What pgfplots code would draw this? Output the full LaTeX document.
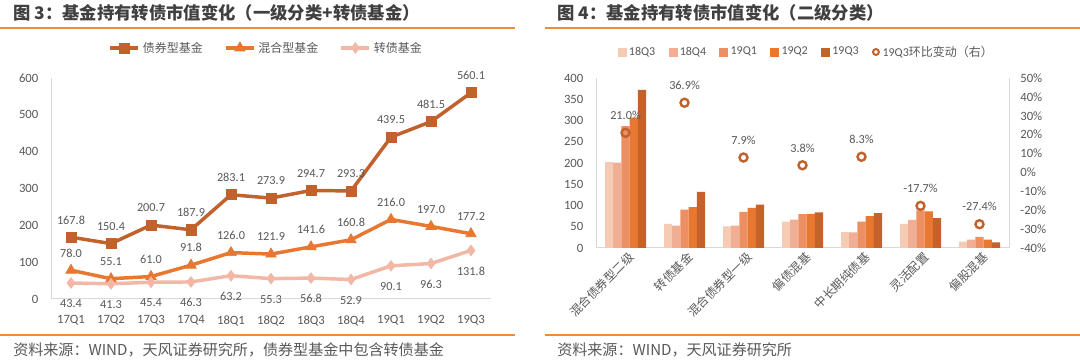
\documentclass[border=0pt]{standalone}
\usepackage{pgfplots}
\usepackage{pgfplotstable}
\pgfplotsset{compat=1.18}
\usepackage{fontspec}
\setmainfont{Carlito}
\newfontfamily\cjk{Noto Sans CJK SC}
\definecolor{txt}{HTML}{595959}
\definecolor{ttl}{HTML}{404040}
\definecolor{rule}{HTML}{ED8D3C}
\definecolor{cA}{HTML}{C1612B}
\definecolor{cB}{HTML}{E8772F}
\definecolor{cC}{HTML}{F2B7A5}
\definecolor{b1}{HTML}{F5CBB3}
\definecolor{b2}{HTML}{F0AF94}
\definecolor{b3}{HTML}{EC9063}
\definecolor{b4}{HTML}{E8772F}
\definecolor{b5}{HTML}{C5612A}
\definecolor{axgray}{HTML}{D9D9D9}
\pgfplotstableread{
x bond mixed cb
0 167.8 78.0 43.4
1 150.4 55.1 41.3
2 200.7 61.0 45.4
3 187.9 91.8 46.3
4 283.1 126.0 63.2
5 273.9 121.9 55.3
6 294.7 141.6 56.8
7 293.3 160.8 52.9
8 439.5 216.0 90.1
9 481.5 197.0 96.3
10 560.1 177.2 131.8
}\linedata
\pgfplotstableread{
x q183 q184 q191 q192 q193 chg
0 202 201 287 307 372 21.0
1 56.8 52.9 90.1 96.3 131.8 36.9
2 51 52.5 85 94.5 102 7.9
3 62 67 80 80.5 84 3.8
4 37.5 36.5 62 75 82 8.3
5 56.5 66 88.5 86 70.5 -17.7
6 15 19.5 26 19.5 13.5 -27.4
}\bardata
\tikzset{lbl/.style={text=txt, font=\fontsize{9.2}{11}\selectfont, anchor=center}}
\pgfplotsset{
  base/.style={scale only axis, anchor=south west,
    /pgf/number format/assume math mode=true,
    tick label style={text=txt, font=\fontsize{9.5}{11}\selectfont},
    axis line style={axgray, line width=0.75pt},
    major tick length=0pt,
    clip=false,
  },
}
\begin{document}
\begin{tikzpicture}[x=0.75pt,y=0.75pt]
\path[use as bounding box, fill=white] (0,0) rectangle (1080,360);
% titles and rules
\node[anchor=west, text=ttl, font=\cjk\bfseries\fontsize{13}{15}\selectfont, inner sep=0pt] at (13,347) {图 3：基金持有转债市值变化（一级分类+转债基金）};
\node[anchor=west, text=ttl, font=\cjk\bfseries\fontsize{13}{15}\selectfont, inner sep=0pt] at (557,347) {图 4：基金持有转债市值变化（二级分类）};
\draw[rule, line width=1.5pt] (0,332) -- (515,332);
\draw[rule, line width=1.5pt] (545,332) -- (1080,332);
\draw[rule, line width=1.5pt] (0,25) -- (515,25);
\draw[rule, line width=1.5pt] (545,25) -- (1080,25);
\node[anchor=west, text=txt, font=\cjk\fontsize{11.3}{13}\selectfont, inner sep=0pt] at (13,10) {资料来源：WIND，天风证券研究所，债券型基金中包含转债基金};
\node[anchor=west, text=txt, font=\cjk\fontsize{11.3}{13}\selectfont, inner sep=0pt] at (557,10) {资料来源：WIND，天风证券研究所};

% ---------- left chart
\begin{axis}[base, at={(38.25pt,45.75pt)}, width=330pt, height=165.75pt,
  xmin=-0.5, xmax=10.5, ymin=0, ymax=600,
  axis x line*=bottom, axis y line*=left,
  xtick={0,...,10},
  xticklabels={17Q1,17Q2,17Q3,17Q4,18Q1,18Q2,18Q3,18Q4,19Q1,19Q2,19Q3},
  ytick={0,100,...,600},
  xticklabel style={yshift=-9pt},
  yticklabel style={xshift=-6pt},
  legend style={at={(0.49,1.136)}, anchor=center, draw=none, fill=none,
    legend columns=3, font=\cjk\fontsize{9}{11}\selectfont, text=txt,
    /tikz/every even column/.append style={column sep=14pt}},
  legend image code/.code={\draw[mark repeat=2,mark phase=2,#1] plot coordinates {(0pt,0pt) (10.5pt,0pt) (21pt,0pt)};},
]
\addplot[cA, line width=2.6pt, mark=square*, mark size=3.8pt, mark options={solid, line width=0.5pt},
  nodes near coords={\pgfmathprintnumber[fixed,fixed zerofill,precision=1]{\pgfplotspointmeta}},
  every node near coord/.append style={lbl, yshift=13pt}, point meta=y]
  table[x=x,y=bond]{\linedata};
\addplot[cB, line width=2.6pt, mark=triangle*, mark size=4.5pt, mark options={solid, line width=0.5pt},
  nodes near coords={\pgfmathprintnumber[fixed,fixed zerofill,precision=1]{\pgfplotspointmeta}},
  every node near coord/.append style={lbl, yshift=13pt}, point meta=y]
  table[x=x,y=mixed]{\linedata};
\addplot[cC, line width=2.6pt, mark=diamond*, mark size=4pt, mark options={solid, line width=0.5pt},
  nodes near coords={\pgfmathprintnumber[fixed,fixed zerofill,precision=1]{\pgfplotspointmeta}},
  every node near coord/.append style={lbl, yshift=-15.5pt}, point meta=y]
  table[x=x,y=cb]{\linedata};
\legend{债券型基金,混合型基金,转债基金}
\end{axis}

% ---------- right chart: bars
\begin{axis}[base, at={(447pt,84pt)}, width=309.75pt, height=127.5pt,
  xmin=-0.5, xmax=6.5, ymin=0, ymax=400,
  axis x line*=bottom, axis y line*=left,
  ytick={0,50,...,400},
  yticklabel style={xshift=-6pt},
  ybar=0pt, bar width=6.15pt,
  xtick={0,...,6},
  xticklabels={混合债券型二级,转债基金,混合债券型一级,偏债混基,中长期纯债基,灵活配置,偏股混基},
  xticklabel style={font=\cjk\fontsize{9}{10}\selectfont, rotate=45, anchor=east, xshift=3pt, yshift=-7pt},
]
\addplot[fill=b1, draw=none] table[x=x,y=q183]{\bardata};
\addplot[fill=b2, draw=none] table[x=x,y=q184]{\bardata};
\addplot[fill=b3, draw=none] table[x=x,y=q191]{\bardata};
\addplot[fill=b4, draw=none] table[x=x,y=q192]{\bardata};
\addplot[fill=b5, draw=none] table[x=x,y=q193]{\bardata};
\end{axis}

% ---------- right chart: change (right axis)
\begin{axis}[base, at={(447pt,84pt)}, width=309.75pt, height=127.5pt,
  xmin=-0.5, xmax=6.5, ymin=-40, ymax=50,
  axis y line*=right, axis x line=none,
  ytick={-40,-30,...,50},
  yticklabel={\pgfmathprintnumber{\tick}\%},
  yticklabel style={xshift=5pt},
  legend style={at={(0.51,1.153)}, anchor=center, draw=none, fill=none,
    legend columns=6, font=\fontsize{9}{11}\selectfont, text=txt,
    /tikz/every even column/.append style={column sep=8pt}},
]
\addlegendimage{legend image code/.code={\fill[b1] (0pt,-3pt) rectangle (6pt,3pt);}}
\addlegendimage{legend image code/.code={\fill[b2] (0pt,-3pt) rectangle (6pt,3pt);}}
\addlegendimage{legend image code/.code={\fill[b3] (0pt,-3pt) rectangle (6pt,3pt);}}
\addlegendimage{legend image code/.code={\fill[b4] (0pt,-3pt) rectangle (6pt,3pt);}}
\addlegendimage{legend image code/.code={\fill[b5] (0pt,-3pt) rectangle (6pt,3pt);}}
\addplot[only marks, mark=o, mark size=3pt, mark options={line width=1.8pt, draw=cA},
  legend image code/.code={\draw[cA, line width=1.5pt] (3pt,0pt) circle (2.2pt);},
  nodes near coords={\pgfmathprintnumber[fixed,fixed zerofill,precision=1]{\pgfplotspointmeta}\%},
  every node near coord/.append style={lbl, yshift=13pt}, point meta=y]
  table[x=x,y=chg]{\bardata};
\legend{18Q3,18Q4,19Q1,19Q2,19Q3,{19Q3{\cjk 环比变动（右）}}}
\end{axis}
\end{tikzpicture}
\end{document}
